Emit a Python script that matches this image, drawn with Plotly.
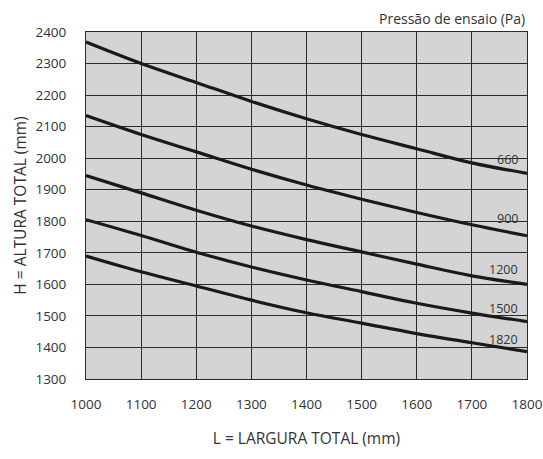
import plotly.graph_objects as go

widths = [1000, 1100, 1200, 1300, 1400, 1500, 1600, 1700, 1800]
h_660 = [2368, 2300, 2240, 2180, 2125, 2075, 2030, 1985, 1952]
h_900 = [2135, 2075, 2020, 1965, 1915, 1870, 1828, 1789, 1754]
h_1200 = [1945, 1890, 1835, 1785, 1742, 1703, 1664, 1627, 1600]
h_1500 = [1805, 1755, 1702, 1655, 1614, 1577, 1540, 1509, 1482]
h_1820 = [1690, 1640, 1595, 1550, 1510, 1477, 1444, 1415, 1387]
pressures = ["660", "900", "1200", "1500", "1820"]
label_y = [1996, 1808, 1648, 1525, 1426]

series = [h_660, h_900, h_1200, h_1500, h_1820]

fig = go.Figure()
for s, p in zip(series, pressures):
    fig.add_trace(go.Scatter(x=widths, y=s, mode="lines", name=p,
                             line=dict(color="#1a1a1a", width=3.2, shape="spline"),
                             showlegend=False, hoverinfo="skip"))

for p, ly in zip(pressures, label_y):
    fig.add_annotation(x=1787, y=ly, text=p, showarrow=False, xanchor="right",
                       yanchor="middle",
                       font=dict(family="Open Sans", size=12.5, color="#333333"))

fig.add_annotation(x=1, y=1, xref="paper", yref="paper", yshift=2, text="Pressão de ensaio (Pa)",
                   showarrow=False, xanchor="right", yanchor="bottom",
                   font=dict(family="Open Sans", size=14, color="#333333"))

fig.update_layout(
    width=543, height=459,
    margin=dict(l=86, r=16, t=32, b=80, autoexpand=False),
    paper_bgcolor="white", plot_bgcolor="#d4d4d4",
    font=dict(family="Open Sans", color="#333333", size=13.5),
)
fig.update_xaxes(range=[1000, 1800], dtick=100, tick0=1000, showgrid=True,
                 gridcolor="#2a2a2a", gridwidth=1, showline=True, linecolor="#2a2a2a",
                 mirror=True, zeroline=False, ticks="", ticklabelstandoff=13, automargin=False,
                 title=dict(text="L = LARGURA TOTAL (mm)", standoff=20,
                            font=dict(size=15.5, color="#333333")))
fig.update_yaxes(range=[1300, 2400], dtick=100, tick0=1300, showgrid=True,
                 gridcolor="#2a2a2a", gridwidth=1, showline=True, linecolor="#2a2a2a",
                 mirror=True, zeroline=False, ticks="", ticklabelstandoff=16, automargin=False,
                 title=dict(text="H = ALTURA TOTAL (mm)", standoff=4,
                            font=dict(size=15.5, color="#333333")))

fig.write_html("out.html", config={"displayModeBar": False},
               post_script="document.body.style.margin='0';document.body.style.overflow='hidden';")
